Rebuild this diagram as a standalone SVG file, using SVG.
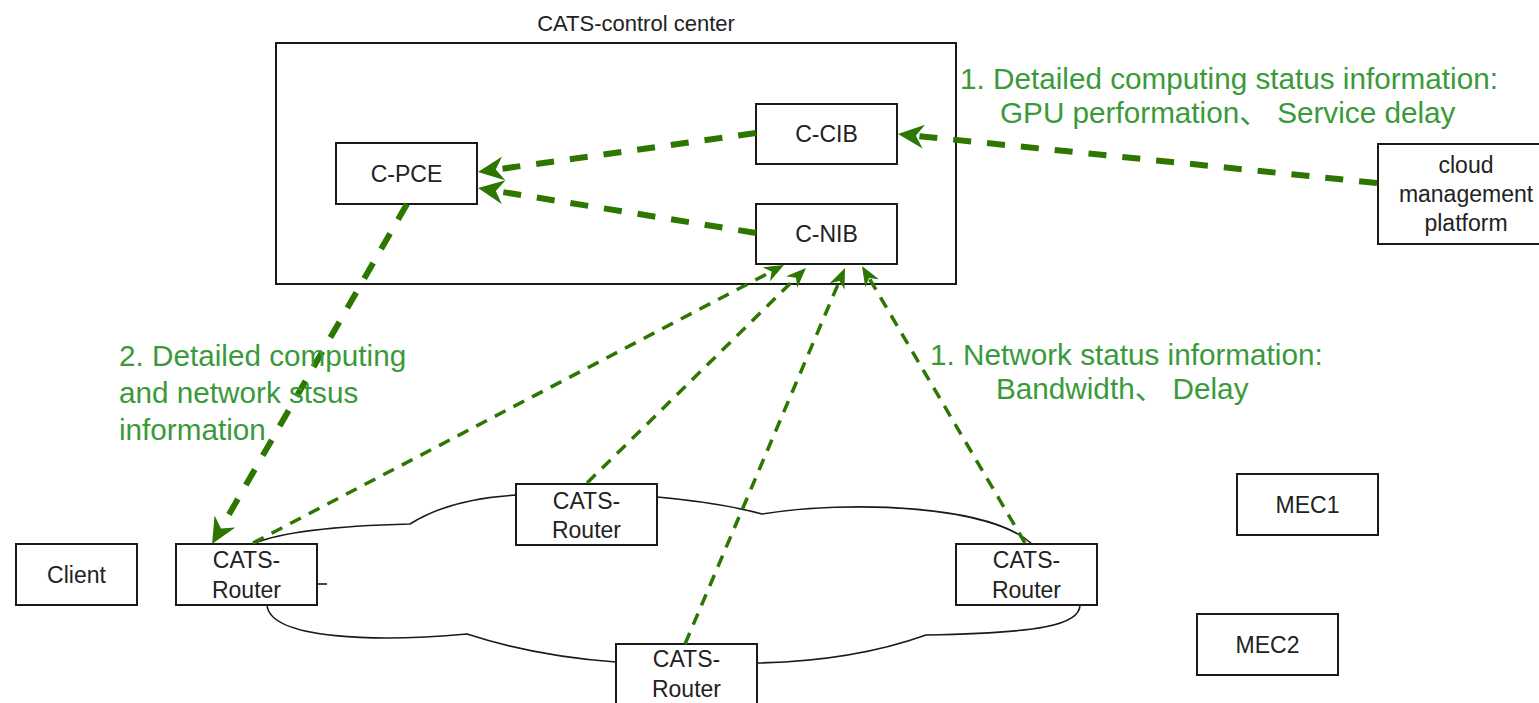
<svg xmlns="http://www.w3.org/2000/svg" width="1539" height="703" viewBox="0 0 1539 703">
<style>
.box{fill:#fff;stroke:#1a1a1a;stroke-width:2}
.frame{fill:none;stroke:#1a1a1a;stroke-width:2}
.cloud{fill:#fff;stroke:#1a1a1a;stroke-width:1.6}
.t{font-family:"Liberation Sans",Arial,"Noto Sans CJK SC",sans-serif;font-size:23px;fill:#222;text-anchor:middle}
.title{font-size:22px}
.g{font-family:"Liberation Sans",Arial,"Noto Sans CJK SC",sans-serif;font-size:29.7px;fill:#3a9a3a}
.thick{fill:none;stroke:#2d7600;stroke-width:6;stroke-dasharray:18 16;marker-end:url(#hb)}
.thin{fill:none;stroke:#2d7600;stroke-width:3.5;stroke-dasharray:12 9;marker-end:url(#hs)}
</style>
<defs>
<marker id="hb" viewBox="0 0 26 24" refX="8" refY="12" markerWidth="26" markerHeight="24" markerUnits="userSpaceOnUse" orient="auto">
<path d="M0,0 L26,12 L0,24 L8,12 Z" fill="#2d7600"/>
</marker>
<marker id="hs" viewBox="0 0 20 16" refX="6" refY="8" markerWidth="20" markerHeight="16" markerUnits="userSpaceOnUse" orient="auto">
<path d="M0,0 L20,8 L0,16 L6,8 Z" fill="#2d7600"/>
</marker>
</defs>
<rect width="1539" height="703" fill="#fff"/>

<g id="network-cloud">
<path class="cloud" d="M253,544 C280,532 330,526 410,524 C440,505 480,497 517,495 L657,497 C700,501 740,508 762,514 C850,500 990,505 1032,544 L1080,605 C1080,625 1040,633 926,635 C870,655 810,662 757,663 L616,662 C560,658 510,648 467,634 C380,642 270,640 267,605 Z"/>
<line x1="317" y1="584" x2="327" y2="584" stroke="#1a1a1a" stroke-width="1.6"/>
</g>

<g id="control-center">
<rect class="frame" x="276" y="43" width="680" height="241"/>
<text class="t title" x="636" y="31">CATS-control center</text>
</g>

<g id="c-pce">
<rect class="box" x="336" y="143" width="141" height="61"/>
<text class="t" x="406.5" y="182">C-PCE</text>
</g>
<g id="c-cib">
<rect class="box" x="756" y="104" width="141" height="60"/>
<text class="t" x="826.5" y="142">C-CIB</text>
</g>
<g id="c-nib">
<rect class="box" x="756" y="204" width="141" height="60"/>
<text class="t" x="826.5" y="242">C-NIB</text>
</g>
<g id="cloud-management-platform">
<rect class="box" x="1378" y="144" width="178" height="100"/>
<text class="t" x="1466" y="173">cloud</text>
<text class="t" x="1466" y="202">management</text>
<text class="t" x="1466" y="231">platform</text>
</g>
<g id="client">
<rect class="box" x="16" y="544" width="121" height="61"/>
<text class="t" x="76.5" y="583">Client</text>
</g>
<g id="router-left">
<rect class="box" x="176" y="544" width="141" height="61"/>
<text class="t" x="246.5" y="568">CATS-</text>
<text class="t" x="246.5" y="598">Router</text>
</g>
<g id="router-top">
<rect class="box" x="516" y="484" width="141" height="61"/>
<text class="t" x="586.5" y="509">CATS-</text>
<text class="t" x="586.5" y="538">Router</text>
</g>
<g id="router-right">
<rect class="box" x="956" y="544" width="141" height="61"/>
<text class="t" x="1026.5" y="568">CATS-</text>
<text class="t" x="1026.5" y="598">Router</text>
</g>
<g id="router-bottom">
<rect class="box" x="616" y="644" width="141" height="61"/>
<text class="t" x="686.5" y="667">CATS-</text>
<text class="t" x="686.5" y="697">Router</text>
</g>
<g id="mec1">
<rect class="box" x="1237" y="474" width="141" height="61"/>
<text class="t" x="1307.5" y="513">MEC1</text>
</g>
<g id="mec2">
<rect class="box" x="1197" y="614" width="141" height="61"/>
<text class="t" x="1267.5" y="653">MEC2</text>
</g>

<g id="connectors">
<path class="thick" d="M1377,183 L915.9,135.8"/>
<path class="thick" d="M756,133 L495.8,169.6"/>
<path class="thick" d="M756,233 L495.8,190.9"/>
<path class="thick" d="M407,204 L221,528.4"/>
<path class="thin" d="M253,543 L771.6,271.5"/>
<path class="thin" d="M587,483 L796,277.8"/>
<path class="thin" d="M685,644 L839.5,280.9"/>
<path class="thin" d="M1025,543 L869.1,278.1"/>
</g>

<g id="labels">
<text class="g" x="960" y="89">1. Detailed computing status information:</text>
<text class="g" x="1000" y="123">GPU performation、 Service delay</text>
<text class="g" x="119" y="366">2. Detailed computing</text>
<text class="g" x="119" y="403">and network stsus</text>
<text class="g" x="119" y="440">information</text>
<text class="g" x="930" y="365">1. Network status information:</text>
<text class="g" x="996" y="399">Bandwidth、 Delay</text>
</g>
</svg>
